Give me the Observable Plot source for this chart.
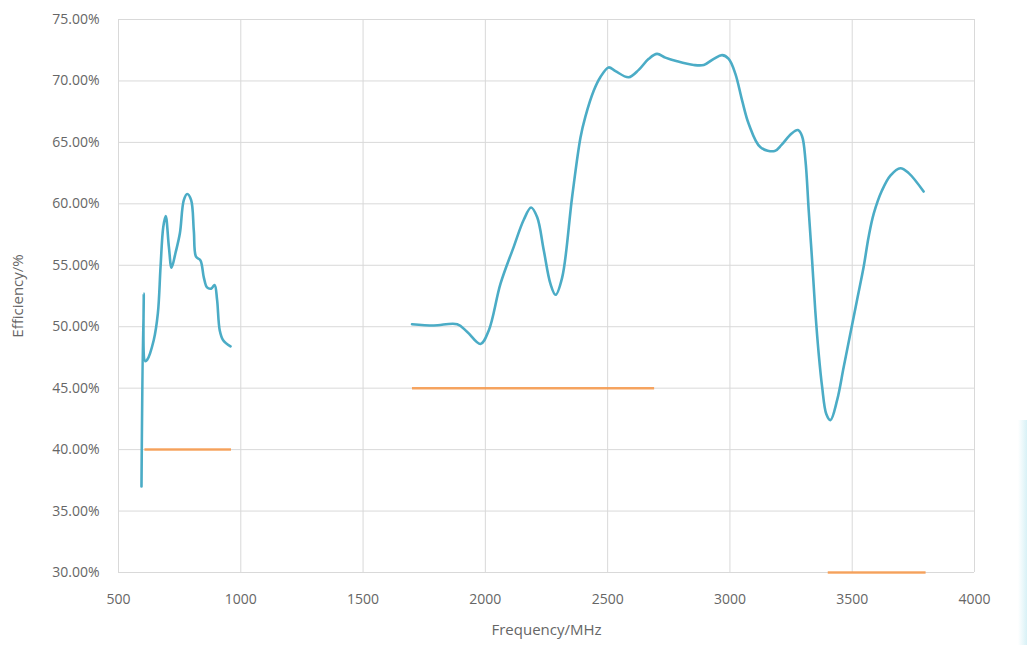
<!DOCTYPE html>
<html><head><meta charset="utf-8">
<script src="https://cdn.jsdelivr.net/npm/d3@7"></script>
<script src="https://cdn.jsdelivr.net/npm/@observablehq/plot@0.6"></script>
<style>
body{margin:0;background:#fff;}
#chart{position:relative;width:1027px;height:645px;}
#edge{position:absolute;left:1018px;top:420px;width:9px;height:225px;background:linear-gradient(to right,#ffffff,#d8f1f6);}
</style>
</head><body><div id="chart"><div id="edge"></div></div>
<script>
// Blue efficiency curve, low band
const lowFreq = [594, 603, 609, 617, 644, 661, 672, 683, 693, 706, 717, 733, 751, 767, 781, 797, 808, 817, 835, 849, 862, 879, 893, 903, 914, 928, 958];
const lowEff  = [37.0, 52.7, 47.2, 47.3, 48.9, 51.1, 54.9, 58.1, 59.0, 56.5, 54.8, 56.0, 57.6, 60.3, 60.8, 60.3, 57.8, 55.7, 55.4, 54.0, 53.2, 53.1, 53.4, 52.2, 49.7, 48.9, 48.4];
// Blue efficiency curve, high band
const highFreq = [1700, 1789, 1885, 1925, 1980, 2014, 2062, 2116, 2157, 2187, 2212, 2239, 2266, 2287, 2314, 2355, 2389, 2409, 2443, 2470, 2504, 2532, 2586, 2627, 2668, 2702, 2736, 2784, 2852, 2893, 2934, 2968, 2995, 3022, 3050, 3077, 3125, 3183, 3211, 3251, 3278, 3295, 3309, 3322, 3336, 3349, 3363, 3377, 3394, 3411, 3438, 3465, 3492, 3520, 3547, 3567, 3588, 3622, 3656, 3697, 3731, 3792];
const highEff  = [50.2, 50.1, 50.2, 49.6, 48.6, 49.7, 53.5, 56.5, 58.7, 59.7, 58.9, 56.2, 53.5, 52.6, 54.0, 60.6, 65.4, 67.1, 69.2, 70.3, 71.1, 70.8, 70.3, 70.9, 71.8, 72.2, 71.9, 71.6, 71.3, 71.3, 71.8, 72.1, 71.8, 70.6, 68.4, 66.5, 64.6, 64.3, 64.8, 65.7, 66.0, 65.5, 63.5, 59.5, 55.4, 51.3, 47.8, 45.1, 42.9, 42.4, 44.0, 46.7, 49.4, 52.2, 54.9, 57.3, 59.2, 61.1, 62.3, 62.9, 62.5, 61.0];
// Orange target levels (per band)
const targetStart = [606, 1700, 3400];
const targetEnd   = [960, 2690, 3800];
const targetLevel = [40, 45, 30];
// Axis ticks
const xTicks = [500, 1000, 1500, 2000, 2500, 3000, 3500, 4000];
const yTicks = [30, 35, 40, 45, 50, 55, 60, 65, 70, 75];

const curve = [
  ...lowFreq.map((f, i) => ({f, e: lowEff[i], band: "low"})),
  ...highFreq.map((f, i) => ({f, e: highEff[i], band: "high"}))
];
const targets = targetStart.map((s, i) => ({s, t: targetEnd[i], y: targetLevel[i]}));

const font = "'Open Sans', sans-serif";
const plot = Plot.plot({
  width: 1027, height: 645,
  marginLeft: 118, marginRight: 53, marginTop: 19, marginBottom: 73,
  style: {fontFamily: font, fontSize: "14px", color: "#666666", background: "transparent"},
  x: {domain: [500, 4000], ticks: xTicks, label: null},
  y: {domain: [30, 75], ticks: yTicks, label: null},
  marks: [
    Plot.ruleX(xTicks, {stroke: "#d9d9d9", strokeWidth: 1}),
    Plot.ruleY(yTicks, {stroke: "#d9d9d9", strokeWidth: 1}),
    Plot.axisX({ticks: xTicks, tickSize: 0, tickPadding: 22, tickFormat: d => String(d), fill: "#666666", fontSize: 14}),
    Plot.axisY({ticks: yTicks, tickSize: 0, tickPadding: 19, tickFormat: d => d.toFixed(2) + "%", fill: "#666666", fontSize: 14}),
    Plot.link(targets, {x1: "s", x2: "t", y1: "y", y2: "y", stroke: "#f79646", strokeOpacity: 0.85, strokeWidth: 2.5}),
    Plot.line(curve, {x: "f", y: "e", z: "band", stroke: "#4bacc6", strokeWidth: 2.6, curve: "catmull-rom"}),
    Plot.text(["Frequency/MHz"], {frameAnchor: "bottom", dy: 62, fill: "#666666", fontSize: 15}),
    Plot.text(["Efficiency/%"], {frameAnchor: "left", dx: -100, rotate: -90, textAnchor: "middle", fill: "#666666", fontSize: 15})
  ]
});
document.getElementById("chart").appendChild(plot);
</script></body></html>
